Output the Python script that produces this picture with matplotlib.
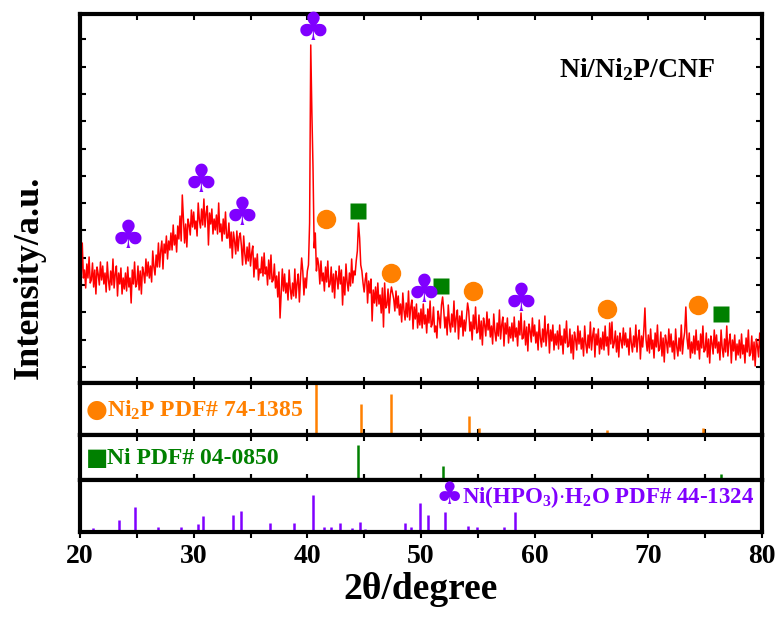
import numpy as np
import matplotlib.pyplot as plt

# XRD pattern, intensity every 0.1 degree (20.0 ... 80.0)
two_theta = np.round(np.arange(20, 80.05, 0.1), 1)
intensity = [
    120, 102, 140, 105, 113, 95, 119, 105, 126, 100,   # 20
    103, 120, 96, 113, 89, 116, 109, 98, 121, 103,     # 21
    117, 99, 110, 91, 121, 103, 93, 112, 98, 124,      # 22
    95, 109, 117, 87, 110, 99, 115, 89, 105, 94,       # 23
    110, 92, 116, 96, 105, 80, 113, 99, 121, 96,       # 24
    99, 117, 93, 112, 89, 116, 110, 100, 124, 107,     # 25
    121, 105, 117, 101, 132, 116, 108, 128, 116, 140,  # 26
    116, 132, 142, 114, 139, 130, 147, 124, 142, 133,  # 27
    150, 133, 158, 138, 148, 131, 157, 144, 167, 142,  # 28
    188, 163, 140, 159, 136, 164, 158, 148, 173, 156,  # 29
    171, 154, 162, 147, 180, 163, 155, 174, 158, 184,  # 30
    156, 170, 177, 138, 170, 159, 174, 149, 164, 153,  # 31
    168, 149, 180, 151, 159, 142, 164, 149, 171, 145,  # 32
    145, 160, 135, 151, 125, 151, 142, 129, 152, 132,  # 33
    146, 150, 137, 118, 147, 129, 119, 136, 122, 140,  # 34
    117, 130, 137, 106, 125, 114, 129, 103, 114, 110,  # 35
    126, 107, 130, 109, 116, 98, 123, 104, 128, 101,   # 36
    103, 119, 95, 107, 86, 111, 65, 89, 114, 92,       # 37
    109, 90, 100, 83, 113, 94, 84, 100, 87, 114,       # 38
    85, 100, 109, 81, 105, 125, 112, 88, 105, 95,      # 39
    112, 118, 160, 338, 270, 215, 135, 150, 112, 125,  # 40
    118, 99, 122, 102, 110, 92, 116, 101, 122, 96,     # 41
    99, 116, 91, 109, 85, 112, 105, 94, 117, 99,       # 42
    113, 78, 106, 88, 119, 101, 92, 110, 97, 124,      # 43
    100, 112, 108, 122, 132, 160, 145, 118, 112, 100,  # 44
    91, 104, 110, 80, 102, 90, 104, 62, 93, 80,        # 45
    96, 77, 100, 79, 88, 70, 95, 56, 100, 75,          # 46
    78, 94, 70, 88, 96, 90, 84, 72, 92, 75,            # 47
    87, 68, 79, 61, 90, 73, 63, 80, 66, 92,            # 48
    63, 76, 83, 54, 76, 64, 79, 55, 70, 58,            # 49
    74, 55, 79, 59, 68, 50, 74, 60, 82, 56,            # 50
    59, 76, 51, 57, 45, 72, 65, 55, 78, 86,            # 51
    73, 55, 66, 48, 78, 60, 51, 69, 56, 82,            # 52
    51, 65, 73, 44, 67, 56, 72, 47, 63, 52,            # 53
    66, 80, 72, 52, 61, 43, 68, 54, 76, 50,            # 54
    51, 68, 44, 62, 38, 65, 58, 47, 71, 53,            # 55
    64, 46, 57, 39, 69, 51, 42, 60, 47, 73,            # 56
    44, 58, 66, 37, 60, 49, 65, 40, 56, 45,            # 57
    60, 42, 66, 46, 55, 37, 62, 48, 70, 44,            # 58
    45, 62, 38, 56, 32, 59, 52, 41, 65, 47,            # 59
    58, 40, 51, 33, 63, 45, 36, 54, 41, 67,            # 60
    37, 51, 59, 30, 53, 42, 58, 33, 49, 38,            # 61
    52, 34, 58, 38, 47, 29, 54, 40, 62, 36,            # 62
    37, 54, 30, 48, 24, 51, 44, 33, 57, 39,            # 63
    52, 34, 45, 27, 57, 39, 30, 48, 35, 61,            # 64
    33, 47, 55, 26, 49, 38, 54, 29, 45, 34,            # 65
    51, 33, 57, 37, 46, 28, 60, 39, 61, 35,            # 66
    40, 52, 31, 47, 26, 50, 43, 35, 55, 38,            # 67
    50, 36, 44, 28, 55, 40, 31, 47, 36, 58,            # 68
    31, 45, 53, 24, 47, 36, 52, 75, 43, 32,            # 69
    48, 30, 54, 34, 43, 25, 50, 36, 58, 32,            # 70
    34, 51, 27, 45, 21, 48, 41, 30, 54, 36,            # 71
    49, 31, 42, 24, 54, 36, 27, 45, 32, 58,            # 72
    29, 43, 51, 76, 45, 34, 50, 25, 41, 30,            # 73
    47, 29, 53, 33, 42, 24, 49, 35, 57, 31,            # 74
    33, 50, 26, 44, 20, 47, 40, 29, 53, 35,            # 75
    48, 30, 41, 23, 53, 35, 26, 44, 31, 57,            # 76
    27, 41, 49, 20, 43, 32, 48, 23, 39, 28,            # 77
    43, 25, 49, 29, 38, 20, 45, 31, 53, 27,            # 78
    30, 47, 23, 41, 17, 44, 37, 26, 50, 32,            # 79
    36,
]

# phase markers above the pattern (2theta, height)
clover_x = [24.2, 30.7, 34.3, 40.5, 50.3, 58.8]
clover_y = [146, 202, 169, 354, 92, 83]
circle_x = [41.6, 47.4, 54.6, 66.35, 74.4]
circle_y = [164, 110, 92, 74, 78]
square_x = [44.5, 51.8, 76.4]
square_y = [172, 97, 69]

# reference cards
ni2p_pos = [30.5, 40.76, 44.7, 47.4, 54.2, 55.1, 66.4, 72.7, 74.8]
ni2p_int = [3, 100, 59, 78, 37, 13, 9, 4, 13]
ni_pos = [44.5, 51.9, 76.4]
ni_int = [100, 39, 18]
hpo_pos = [21.1, 23.4, 24.8, 26.9, 28.9, 30.4, 30.8, 33.5, 34.2, 36.7, 38.8,
           40.5, 41.5, 42.1, 42.9, 43.9, 44.6, 45.1, 48.6, 49.1, 49.9, 50.6,
           52.1, 54.1, 54.9, 56.3, 57.3, 58.3]
hpo_int = [11, 32, 68, 14, 14, 22, 43, 46, 57, 24, 24,
           100, 14, 14, 24, 11, 27, 8, 24, 14, 78, 46,
           54, 16, 14, 5, 14, 54]

RED = '#FF0000'
ORANGE = '#FF8000'
GREEN = '#008000'
PURPLE = '#8000FF'

plt.rcParams['font.family'] = ['Liberation Serif', 'DejaVu Sans']
plt.rcParams['font.weight'] = 'bold'
plt.rcParams['axes.labelweight'] = 'bold'
plt.rcParams['mathtext.fontset'] = 'custom'
plt.rcParams['mathtext.rm'] = 'Liberation Serif:bold'
plt.rcParams['mathtext.it'] = 'Liberation Serif:bold'
plt.rcParams['mathtext.bf'] = 'Liberation Serif:bold'
plt.rcParams['mathtext.default'] = 'rm'

W, H = 778, 619
fig = plt.figure(figsize=(W / 100, H / 100), dpi=100)
gs = fig.add_gridspec(4, 1, height_ratios=[369, 52, 45, 52], hspace=0,
                      left=80 / W, right=762 / W, top=1 - 14 / H, bottom=1 - 532 / H)
ax0 = fig.add_subplot(gs[0])
ax1 = fig.add_subplot(gs[1], sharex=ax0)
ax2 = fig.add_subplot(gs[2], sharex=ax0)
ax3 = fig.add_subplot(gs[3], sharex=ax0)
axes = [ax0, ax1, ax2, ax3]

ax0.plot(two_theta, intensity, color=RED, lw=1.1)
ax0.set_ylim(0, 369)
ax0.set_yticks(np.arange(16, 369, 27.3))

for x, y in zip(clover_x, clover_y):
    ax0.text(x, y, '\u2663', color=PURPLE, fontsize=28, ha='center', va='center',
             family='DejaVu Sans')
ax0.plot(circle_x, circle_y, 'o', color=ORANGE, ms=14, mec='none')
ax0.plot(square_x, square_y, 's', color=GREEN, ms=12, mec='none')
ax0.text(0.817, 0.85, r'Ni/Ni$_2$P/CNF', transform=ax0.transAxes,
         fontsize=20, ha='center', va='center')

ax1.vlines(ni2p_pos, 0, ni2p_int, color=ORANGE, lw=1.8)
ax1.set_ylim(0, 100)
ax2.vlines(ni_pos, 0, ni_int, color=GREEN, lw=1.8)
ax2.set_ylim(0, 130)
ax3.vlines(hpo_pos, 0, hpo_int, color=PURPLE, lw=1.8)
ax3.set_ylim(0, 140)

for ax in axes:
    for s in ax.spines.values():
        s.set_linewidth(3)
    ax.set_xlim(20, 80)
    ax.set_xticks([20, 30, 40, 50, 60, 70, 80])
    ax.set_xticks([25, 35, 45, 55, 65, 75], minor=True)
    ax.tick_params(which='both', direction='in', length=4, width=1.5,
                   top=True, right=True, labelleft=False, labelbottom=False)
for ax in axes[1:]:
    ax.set_yticks([])

ax3.tick_params(axis='x', which='both', direction='out', labelbottom=True,
                labelsize=20, pad=5)
ax3.set_xlabel('2\u03b8/degree', fontsize=27, fontweight='bold', labelpad=2)

# card labels
fig.text(97 / W, 1 - 410 / H, '\u25cf', color=ORANGE, fontsize=18, ha='center',
         va='center', family='DejaVu Sans')
fig.text(107 / W, 1 - 410 / H, r'Ni$_2$P PDF# 74-1385', color=ORANGE, fontsize=17,
         ha='left', va='center')
fig.text(97 / W, 1 - 458 / H, '\u25a0', color=GREEN, fontsize=17, ha='center',
         va='center', family='DejaVu Sans')
fig.text(107 / W, 1 - 458 / H, 'Ni PDF# 04-0850', color=GREEN, fontsize=17,
         ha='left', va='center')
fig.text(449 / W, 1 - 496 / H, '\u2663', color=PURPLE, fontsize=22, ha='center',
         va='center', family='DejaVu Sans')
fig.text(754 / W, 1 - 497 / H, r'Ni(HPO$_3$)$\cdot$H$_2$O PDF# 44-1324', color=PURPLE,
         fontsize=16.5, ha='right', va='center')

fig.text(29 / W, 1 - 277 / H, 'Intensity/a.u.', rotation=90, fontsize=26,
         ha='center', va='center')

fig.savefig('out.png', dpi=100)
